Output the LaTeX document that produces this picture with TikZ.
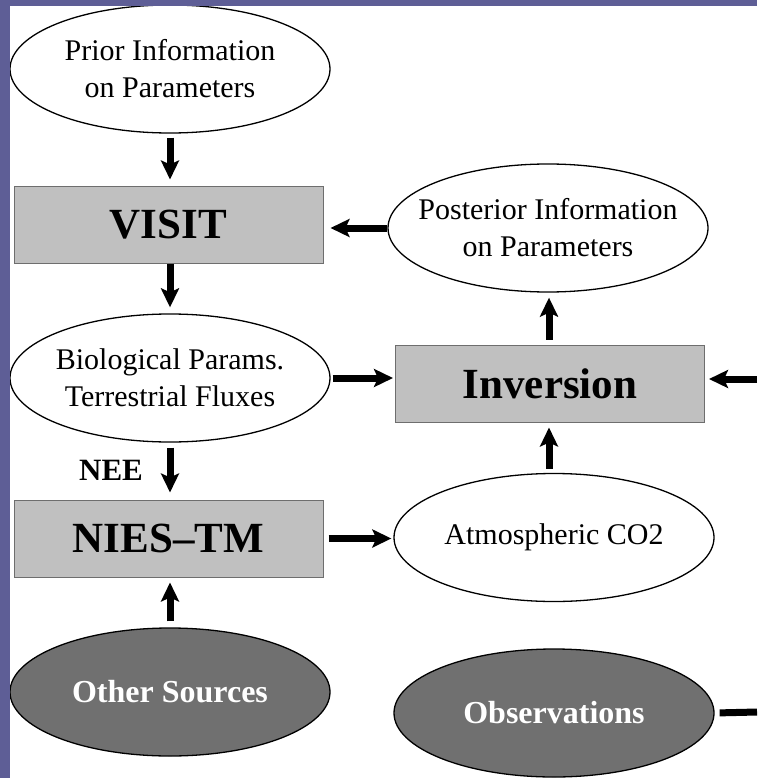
\documentclass[tikz,border=0pt]{standalone}
\usepackage{fontspec}
\setmainfont{Liberation Serif}
\usetikzlibrary{shapes.geometric,arrows.meta}
\definecolor{frame}{RGB}{94,94,150}
\definecolor{boxgray}{RGB}{192,192,192}
\definecolor{boxline}{RGB}{110,110,110}
\definecolor{darkell}{RGB}{112,112,112}
\begin{document}
\begin{tikzpicture}[x=1pt,y=-1pt,
 ell/.style={ellipse,draw=black,line width=1.3pt,fill=white,minimum width=320pt,minimum height=128pt,inner sep=0pt,inner xsep=-60pt,align=center,font=\fontsize{30}{37}\selectfont},
 dell/.style={ell,fill=darkell,text=white,font=\fontsize{32}{38}\selectfont\bfseries},
 gbox/.style={rectangle,draw=boxline,line width=1pt,fill=boxgray,minimum width=309pt,minimum height=77pt,inner sep=0pt,font=\fontsize{43}{50}\selectfont\bfseries},
 arr/.style={line width=7pt,-{Stealth[length=19pt,width=18pt,inset=4pt]}},
]
\useasboundingbox (0,0) rectangle (757,778);
\fill[white] (0,0) rectangle (757,778);

\node[ell]  (prior) at (170,69)    {Prior Information\\on Parameters};
\node[gbox] (visit) at (168.5,224.5) {VISIT};
\node[ell]  (post)  at (548,228)   {Posterior Information\\on Parameters};
\node[ell]  (bio)   at (170,378)   {Biological Params.\\Terrestrial Fluxes};
\node[gbox] (inv)   at (550,383.5) {Inversion};
\node[font=\fontsize{31}{36}\selectfont\bfseries] (nee) at (111,470) {NEE};
\node[gbox] (nies)  at (168.5,538.5) {NIES\textendash TM};
\node[ell]  (atm)   at (554,537.5) {Atmospheric CO2};
\node[dell] (other) at (170,692)   {Other Sources};
\node[dell] (obs)   at (554,713)   {Observations};

\coordinate (inR)  at (757,379);
\coordinate (obsR) at (757,712);

\draw[arr,shorten <=4pt,shorten >=6pt] (prior.south) -- (prior.south |- visit.north);
\draw[arr,shorten >=7pt] (post.west) -- (post.west -| visit.east);
\draw[arr,shorten >=6pt] (visit.south -| bio.south) -- (bio.south |- bio.north);
\draw[arr,shorten <=2pt,shorten >=2pt] (bio.east) -- (bio.east -| inv.west);
\draw[arr,shorten >=4pt] (inR) -- (inR -| inv.east);
\draw[arr,shorten <=5pt,shorten >=5pt] (inv.north -| 549,0) -- (549,0 |- post.south);
\draw[arr,shorten <=4pt,shorten >=5pt] (atm.north -| 549,0) -- (549,0 |- inv.south);
\draw[arr,shorten <=5pt,shorten >=7pt] (bio.south) -- (bio.south |- nies.north);
\draw[arr,shorten <=5pt,shorten >=2pt] (nies.east) -- (nies.east -| atm.west);
\draw[arr,shorten <=6pt,shorten >=5pt] (other.north) -- (other.north |- nies.south);
\draw[line width=7pt,shorten <=5pt] (obs.east) -- (obsR);

\fill[frame] (0,0) rectangle (10,778);
\fill[frame] (0,0) rectangle (757,6);
\end{tikzpicture}
\end{document}
